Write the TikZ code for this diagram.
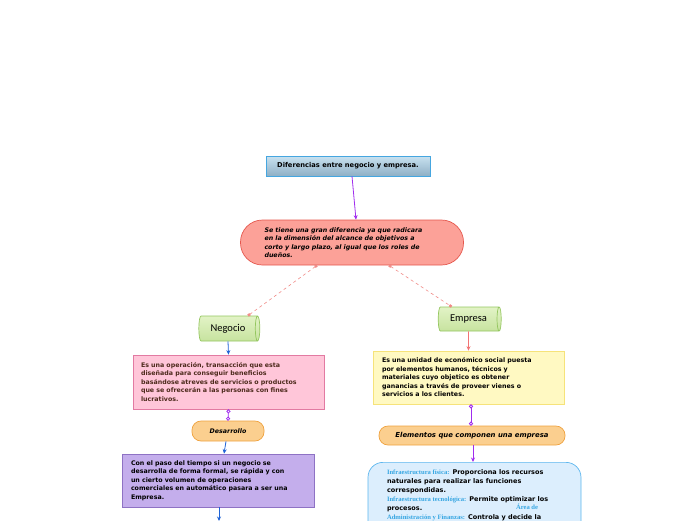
\documentclass[tikz,border=0pt]{standalone}
\usepackage{fontspec}
\setmainfont{DejaVu Sans}
\newfontfamily\calibrifont{Carlito}
\newfontfamily\labelfont{Liberation Serif}
\usetikzlibrary{shapes.geometric,arrows.meta}

\definecolor{titletop}{HTML}{C9E2F0}
\definecolor{titlebot}{HTML}{8EAFC5}
\definecolor{titleline}{HTML}{45A6E0}
\definecolor{salmonfill}{HTML}{FCA198}
\definecolor{salmonline}{HTML}{E5574D}
\definecolor{greentop}{HTML}{E2F3C6}
\definecolor{greenbot}{HTML}{C7E39F}
\definecolor{greenline}{HTML}{94C65F}
\definecolor{pinkfill}{HTML}{FFC6D9}
\definecolor{pinkline}{HTML}{E27AA2}
\definecolor{pinktext}{HTML}{4D2A1C}
\definecolor{orangefill}{HTML}{FBCF8F}
\definecolor{orangeline}{HTML}{EFA23F}
\definecolor{violetfill}{HTML}{C4AEEC}
\definecolor{violetline}{HTML}{8E72C4}
\definecolor{yellowfill}{HTML}{FFF9C2}
\definecolor{yellowline}{HTML}{F6E37A}
\definecolor{bluefill}{HTML}{DCEEFD}
\definecolor{blueline}{HTML}{5CB6EE}
\definecolor{bluelabel}{HTML}{36A6E2}
\definecolor{arrowviolet}{HTML}{A02CEE}
\definecolor{arrowblue}{HTML}{1F63D6}
\definecolor{arrowred}{HTML}{F27474}
\definecolor{dashred}{HTML}{F08A86}

\newcommand{\boxfont}{\bfseries\fontsize{6.3}{8.5}\selectfont}
\newcommand{\lbl}[1]{{\labelfont\bfseries\fontsize{6.6}{9}\selectfont\color{bluelabel}#1}}

\begin{document}
\begin{tikzpicture}[x=1pt,y=-1pt,
	textbox/.style={draw,line width=0.7pt,align=left,inner ysep=0pt,font=\boxfont},
	pill/.style={textbox,rounded corners=#1},
	barrel/.style={cylinder,shape border rotate=0,shape aspect=0.5,draw=greenline,line width=0.7pt,
		top color=greentop,bottom color=greenbot,minimum width=25pt,minimum height=61pt,
		inner sep=0pt,font=\calibrifont\fontsize{10.5}{12}\selectfont},
	tipline/.style={line width=0.8pt,-{Stealth[length=4.5pt,width=4pt]}},
	ringline/.style={line width=0.8pt,arrowviolet,{Circle[open,length=4pt,width=4pt]}-{Circle[open,length=4pt,width=4pt]}},
	dashline/.style={dashred,dashed,line width=0.6pt,{Square[length=2.5pt,width=2.5pt]}-{Square[length=2.5pt,width=2.5pt]}}]
	\clip (0,0) rectangle (696,520);

	\node[textbox,align=center,draw=titleline,top color=titletop,bottom color=titlebot,
		minimum width=164pt,minimum height=20pt,font=\bfseries\fontsize{6.7}{8.5}\selectfont] (title) at (348,166)
		{Diferencias entre negocio y empresa.};	%top
	\node[pill=22pt,draw=salmonline,fill=salmonfill,inner xsep=24pt,text width=175pt,
		minimum height=45pt,font=\boxfont\itshape] (central) at (352,242.5)
		{Se tiene una gran diferencia ya que radicara\\en la dimensión del alcance de objetivos a\\corto y largo plazo, al igual que los roles de\\dueños.};

	\node[barrel] (negocio) at (228,328.5) {Negocio};
	\node[barrel,minimum width=24pt,minimum height=63pt] (empresa) at (468.5,319) {Empresa};

	%left column
	\node[textbox,draw=pinkline,fill=pinkfill,text=pinktext,inner xsep=8pt,text width=175pt,
		minimum height=54pt] (pink) at (228.5,382)
		{Es una operación, transacción que esta\\diseñada para conseguir beneficios\\basándose atreves de servicios o productos\\que se ofrecerán a las personas con fines\\lucrativos.};
	\node[pill=9pt,align=center,draw=orangeline,fill=orangefill,minimum width=72pt,
		minimum height=20pt,font=\boxfont\itshape] (desarrollo) at (228,431) {Desarrollo};
	\node[textbox,draw=violetline,fill=violetfill,inner xsep=9pt,text width=174pt,
		minimum height=53pt] (violet) at (218,480.5)
		{Con el paso del tiempo si un negocio se\\desarrolla de forma formal, se rápida y con\\un cierto volumen de operaciones\\comerciales en automático pasara a ser una\\Empresa.};
	\coordinate (next) at (219,521);

	%right column
	\node[textbox,draw=yellowline,fill=yellowfill,inner xsep=9pt,text width=173pt,
		minimum height=53pt] (yellow) at (468.5,377.5)
		{Es una unidad de económico social puesta\\por elementos humanos, técnicos y\\materiales cuyo objetico es obtener\\ganancias a través de proveer vienes o\\servicios a los clientes.};
	\node[pill=9pt,align=center,draw=orangeline,fill=orangefill,minimum width=186pt,
		minimum height=19pt,font=\bfseries\itshape\fontsize{6.9}{8.5}\selectfont] (elementos) at (472,435.5)
		{Elementos que componen una empresa};
	\node[textbox,rounded corners=15pt,draw=blueline,fill=bluefill,anchor=north,
		inner xsep=19pt,inner ysep=7pt] (blue) at (474.5,462)
		{\parbox[t][90pt][t]{175pt}{\fontsize{6.5}{9}\selectfont
		\lbl{Infraestructura física:} Proporciona los recursos\\
		naturales para realizar las funciones\\
		correspondidas.\\
		\lbl{Infraestructura tecnológica:} Permite optimizar los\\
		\makebox[129pt][l]{procesos.}\raisebox{1pt}{\lbl{Área de}}\\
		\lbl{Administración y Finanzas:} Controla y decide la}};

	%connectors
	\draw[tipline,arrowviolet] ([xshift=4pt]title.south) -- ([xshift=4pt]central.north);
	\draw[dashline] ([xshift=-35pt]central.south) -- ([xshift=20pt]negocio.north);
	\draw[dashline] ([xshift=37pt]central.south) -- ([xshift=-17pt]empresa.north);
	\draw[tipline,arrowblue] (negocio.south) -- (pink.north);
	\draw[ringline] (pink.south) -- (desarrollo.north);
	\draw[tipline,arrowblue] ([xshift=-2pt]desarrollo.south) -- ([xshift=6pt]violet.north);
	\draw[tipline,arrowblue] ([xshift=1pt]violet.south) -- (next);
	\draw[tipline,arrowred] (empresa.south) -- (yellow.north);
	\draw[ringline] ([xshift=2.5pt]yellow.south) -- ([xshift=-1pt]elementos.north);
	\draw[tipline,arrowviolet] ([xshift=1pt]elementos.south) -- ([xshift=-1.5pt]blue.north);
\end{tikzpicture}
\end{document}
